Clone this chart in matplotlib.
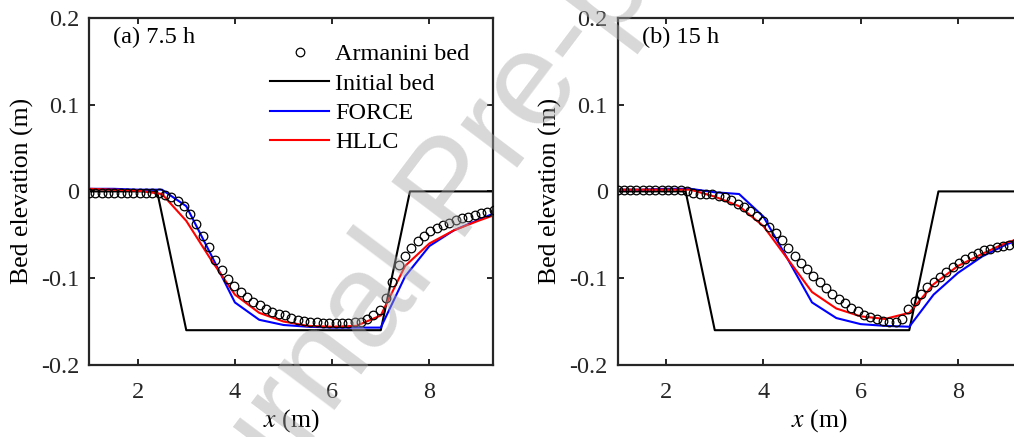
import matplotlib
matplotlib.use("Agg")
import matplotlib.pyplot as plt

plt.rcParams["font.family"] = ["Liberation Serif", "DejaVu Serif"]
plt.rcParams["mathtext.fontset"] = "stix"

# ---- data ----
# initial bed (same for both panels)
x_init = [1.0, 2.4, 3.0, 7.0, 7.6, 9.3]
z_init = [0.0, 0.0, -0.16, -0.16, 0.0, 0.0]

# Armanini measured bed
x_arm = [1.00, 1.13, 1.26, 1.39, 1.52, 1.65, 1.78, 1.91, 2.04, 2.17, 2.30, 2.43,
         2.56, 2.69, 2.82, 2.95, 3.08, 3.21, 3.34, 3.47, 3.60, 3.73, 3.86, 3.99,
         4.12, 4.25, 4.38, 4.51, 4.64, 4.77, 4.90, 5.03, 5.16, 5.29, 5.42, 5.55,
         5.68, 5.81, 5.94, 6.07, 6.20, 6.33, 6.46, 6.59, 6.72, 6.85, 6.98, 7.11,
         7.24, 7.37, 7.50, 7.63, 7.76, 7.89, 8.02, 8.15, 8.28, 8.41, 8.54, 8.67,
         8.80, 8.93, 9.06, 9.19, 9.32]
z_arm_a = [-0.002, -0.002, -0.002, -0.002, -0.002, -0.002, -0.002, -0.002, -0.002, -0.002, -0.002, -0.002,
           -0.004, -0.007, -0.011, -0.017, -0.026, -0.038, -0.051, -0.064, -0.079, -0.091, -0.101, -0.109,
           -0.116, -0.122, -0.127, -0.131, -0.135, -0.139, -0.141, -0.143, -0.146, -0.148, -0.149, -0.150,
           -0.151, -0.152, -0.152, -0.152, -0.152, -0.152, -0.151, -0.150, -0.147, -0.143, -0.137, -0.123,
           -0.104, -0.085, -0.075, -0.065, -0.057, -0.051, -0.046, -0.042, -0.039, -0.036, -0.033, -0.031,
           -0.029, -0.027, -0.025, -0.024, -0.022]
z_arm_b = [0.002, 0.002, 0.002, 0.002, 0.002, 0.002, 0.002, 0.002, 0.002, 0.002, 0.002, 0.001,
           -0.002, -0.003, -0.003, -0.003, -0.005, -0.007, -0.010, -0.014, -0.018, -0.023, -0.028, -0.034,
           -0.041, -0.048, -0.056, -0.065, -0.074, -0.082, -0.090, -0.097, -0.104, -0.111, -0.118, -0.124,
           -0.129, -0.134, -0.138, -0.142, -0.145, -0.147, -0.149, -0.151, -0.151, -0.147, -0.136, -0.126,
           -0.118, -0.110, -0.105, -0.099, -0.093, -0.087, -0.082, -0.078, -0.074, -0.071, -0.068, -0.066,
           -0.064, -0.063, -0.062, -0.060, -0.059]

# model results (0.5 m cells)
x_mod = [1.0, 1.5, 2.0, 2.5, 3.0, 3.5, 4.0, 4.5, 5.0, 5.5, 6.0, 6.5, 7.0, 7.5, 8.0, 8.5, 9.0, 9.3]
force_a = [0.003, 0.003, 0.002, 0.002, -0.017, -0.072, -0.128, -0.148, -0.154, -0.156, -0.157, -0.157,
           -0.157, -0.098, -0.063, -0.045, -0.033, -0.026]
hllc_a = [0.003, 0.002, 0.001, -0.003, -0.034, -0.078, -0.119, -0.140, -0.150, -0.155, -0.156, -0.155,
          -0.143, -0.086, -0.060, -0.045, -0.034, -0.028]
force_b = [0.002, 0.002, 0.003, 0.003, -0.001, -0.003, -0.029, -0.078, -0.128, -0.146, -0.153, -0.155,
           -0.156, -0.119, -0.094, -0.075, -0.061, -0.055]
hllc_b = [0.002, 0.002, 0.002, 0.002, -0.006, -0.017, -0.040, -0.078, -0.116, -0.135, -0.144, -0.147,
          -0.140, -0.107, -0.086, -0.072, -0.059, -0.054]

panels = [("(a) 7.5 h", z_arm_a, force_a, hllc_a),
          ("(b) 15 h", z_arm_b, force_b, hllc_b)]

yticks = [-0.2, -0.1, 0.0, 0.1, 0.2]
ytick_labels = ["-0.2", "-0.1", "0", "0.1", "0.2"]

fig = plt.figure(figsize=(10.14, 4.37), dpi=100)
ax_pos = [[0.0878, 0.165, 0.398, 0.794], [0.609, 0.165, 0.398, 0.794]]

for i, (label, z_arm, z_force, z_hllc) in enumerate(panels):
    ax = fig.add_axes(ax_pos[i])
    ax.plot(x_arm, z_arm, "o", mfc="none", mec="black", ms=6.2, mew=0.9,
            label="Armanini bed", zorder=4)
    ax.plot(x_init, z_init, color="black", lw=1.5, label="Initial bed")
    ax.plot(x_mod, z_force, color="#0000ff", lw=1.5, label="FORCE")
    ax.plot(x_mod, z_hllc, color="#ff0000", lw=1.5, label="HLLC")

    ax.set_xlim(1, 9.3)
    ax.set_ylim(-0.2, 0.2)
    ax.set_xticks([2, 4, 6, 8])
    ax.set_yticks(yticks)
    ax.set_yticklabels(ytick_labels)
    ax.tick_params(direction="in", length=4, width=1.4, top=True, right=True,
                   labelsize=17.5, pad=7, color="#262626", labelcolor="#262626")
    ax.tick_params(axis="x", pad=12)
    for s in ax.spines.values():
        s.set_linewidth(1.6)
        s.set_color("#262626")
    ax.set_xlabel("$x$ (m)", fontsize=18.5, labelpad=3)
    ax.set_ylabel("Bed elevation (m)", fontsize=18.5, labelpad=5)
    ax.text(0.06, 0.975, label, transform=ax.transAxes, fontsize=17.5, va="top")

    if i == 0:
        ax.legend(loc="upper right", bbox_to_anchor=(0.975, 0.965), frameon=False,
                  fontsize=17.5, handlelength=2.4, handletextpad=0.25,
                  labelspacing=0.3, borderaxespad=0.15)

# journal watermark
fig.text(0.45, 0.56, "Journal Pre-proof", fontsize=96, color="#a8a8a8", alpha=0.45,
         rotation=53, ha="center", va="center", family="Liberation Sans", zorder=10)

fig.savefig("out.png", dpi=100)
